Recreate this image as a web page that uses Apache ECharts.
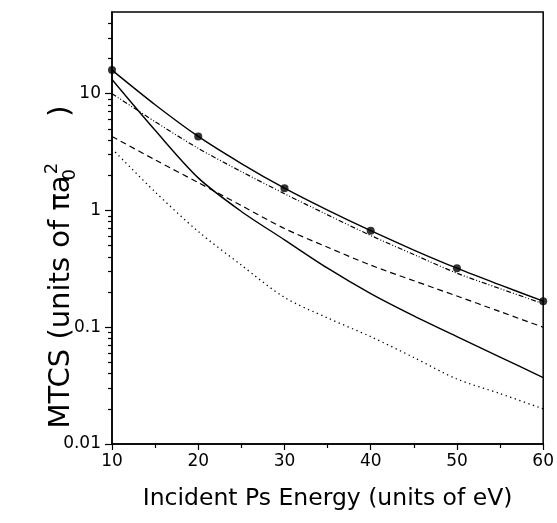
<!DOCTYPE html>
<html>
<head>
<meta charset="utf-8">
<script src="https://cdn.jsdelivr.net/npm/echarts@6/dist/echarts.min.js"></script>
<style>
html,body{margin:0;padding:0;background:#fff;}
#c{width:557px;height:523px;}
</style>
</head>
<body>
<div id="c"></div>
<script>
// Incident Ps energy (eV)
const energies = [10, 15, 20, 25, 30, 35, 40, 45, 50, 55, 60];
// upper solid curve (passes through dots)
const solidUpper = [15.9, 8.04, 4.3, 2.52, 1.55, 1.005, 0.67, 0.458, 0.32, 0.23, 0.167];
// dash-dot curve
const dashDot = [10.0, 5.75, 3.4, 2.15, 1.39, 0.916, 0.61, 0.419, 0.29, 0.214, 0.159];
// dashed curve
const dashed = [4.3, 2.71, 1.73, 1.10, 0.70, 0.484, 0.34, 0.25, 0.185, 0.136, 0.10];
// lower solid curve
const solidLower = [13.2, 4.85, 1.9, 0.98, 0.56, 0.32, 0.194, 0.125, 0.083, 0.0555, 0.037];
// dotted curve
const dotted = [3.37, 1.44, 0.66, 0.34, 0.18, 0.12, 0.083, 0.055, 0.036, 0.027, 0.020];
// filled circles
const dotEnergies = [10, 20, 30, 40, 50, 60];
const dotValues = [15.9, 4.3, 1.55, 0.67, 0.32, 0.167];
// axis ticks
const yMajorTicks = [0.01, 0.1, 1, 10];
const yMinorTicks = [0.02,0.03,0.04,0.05,0.06,0.07,0.08,0.09,0.2,0.3,0.4,0.5,0.6,0.7,0.8,0.9,2,3,4,5,6,7,8,9,20,30,40];

const pairs = (xs, ys) => xs.map((x, i) => [x, ys[i]]);
const FONT = 'DejaVu Sans';

const chart = echarts.init(document.getElementById('c'), null, {renderer: 'canvas'});
const lineSeries = (data, type, width) => ({
  type: 'line', data: data, showSymbol: false, smooth: 0.3, silent: true,
  lineStyle: {color: '#000', width: width, type: type}, z: 3
});
chart.setOption({
  backgroundColor: '#fff',
  animation: false,
  grid: {left: 112, right: 12, top: 12, bottom: 79, show: true, borderColor: '#000', borderWidth: 1.5, backgroundColor: 'transparent'},
  xAxis: [{
    type: 'value', min: 10, max: 60, interval: 10,
    name: 'Incident Ps Energy (units of eV)', nameLocation: 'middle', nameGap: 43,
    nameTextStyle: {fontFamily: FONT, fontSize: 23.5, color: '#000'},
    axisLine: {show: true, lineStyle: {color: '#000', width: 1.5}},
    axisTick: {show: true, length: 6, lineStyle: {color: '#000', width: 1.2}},
    minorTick: {show: true, splitNumber: 2, length: 4, lineStyle: {color: '#000', width: 1.2}},
    splitLine: {show: false},
    axisLabel: {fontFamily: FONT, fontSize: 17, color: '#000', margin: 9}
  }],
  yAxis: [{
    type: 'log', logBase: 10, min: 0.01, max: 50,
    name: '{t|MTCS (units of πa}{sub|0}{sup|2}{t|     )}', nameLocation: 'middle', nameGap: 33,
    nameRotate: 90, nameMoveOverlap: false,
    nameTextStyle: {fontFamily: FONT, fontSize: 29, color: '#000', padding: [0, 78, 0, 0],
      rich: {
        t: {fontFamily: FONT, fontSize: 29, color: '#000', lineHeight: 36, verticalAlign: 'middle'},
        sub: {fontFamily: FONT, fontSize: 18, color: '#000', lineHeight: 36, verticalAlign: 'bottom', width: 1},
        sup: {fontFamily: FONT, fontSize: 18, color: '#000', lineHeight: 36, verticalAlign: 'top'}
      }},
    axisLine: {show: true, lineStyle: {color: '#000', width: 1.5}},
    axisTick: {show: true, length: 7, customValues: yMajorTicks, lineStyle: {color: '#000', width: 1.2}},
    splitLine: {show: false},
    axisLabel: {fontFamily: FONT, fontSize: 17, color: '#000', margin: 11, customValues: yMajorTicks,
      formatter: v => String(v)}
  }, {
    type: 'log', logBase: 10, min: 0.01, max: 50, position: 'left',
    axisLine: {show: false},
    axisTick: {show: true, length: 4, customValues: yMinorTicks, lineStyle: {color: '#000', width: 1.2}},
    axisLabel: {show: false},
    splitLine: {show: false}
  }],
  series: [
    lineSeries(pairs(energies, solidUpper), 'solid', 1.4),
    lineSeries(pairs(energies, dashDot), [5, 2, 1, 2, 1, 2], 1.2),
    lineSeries(pairs(energies, dashed), [6, 4], 1.2),
    lineSeries(pairs(energies, solidLower), 'solid', 1.4),
    lineSeries(pairs(energies, dotted), [1.3, 3.5], 1.3),
    {type: 'scatter', data: pairs(dotEnergies, dotValues), symbol: 'circle', symbolSize: 8,
     itemStyle: {color: '#000'}, z: 5, silent: true}
  ]
});
</script>
</body>
</html>
